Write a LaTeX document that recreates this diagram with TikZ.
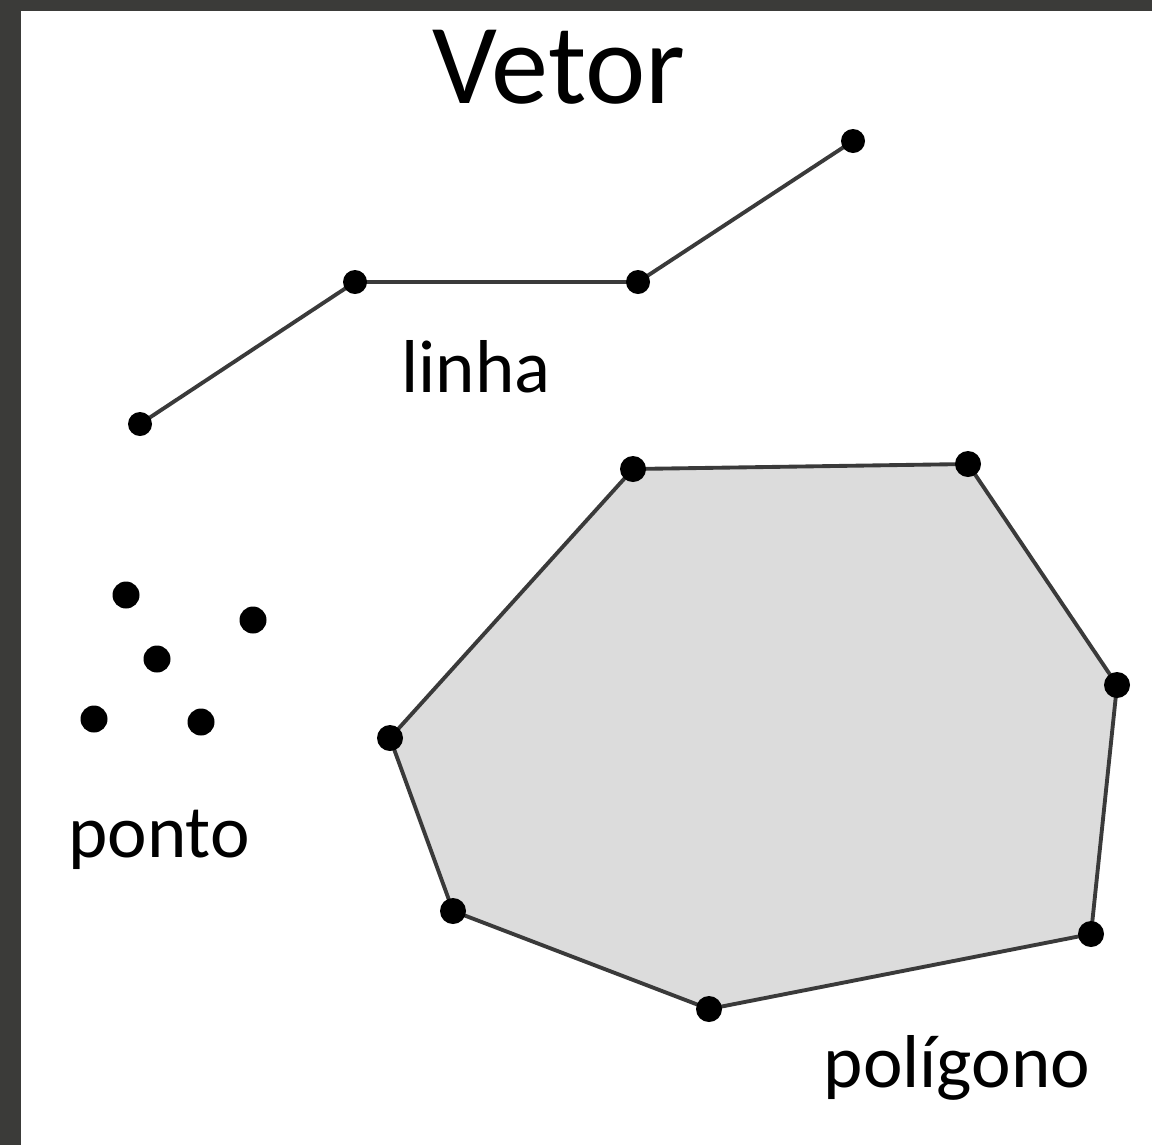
\documentclass[tikz,border=0pt]{standalone}
\usepackage{fontspec}
\setmainfont{Carlito}
\usepackage{xcolor}
\usetikzlibrary{positioning}
\definecolor{frameGray}{HTML}{3B3B39}
\definecolor{edgeGray}{HTML}{3A3A3A}
\definecolor{polyFill}{HTML}{DCDCDC}
\tikzset{
  vertex/.style={fill=black},
  edge/.style={edgeGray,line width=1.1pt,line join=round},
  label/.style={anchor=base,font=\fontsize{21.3}{25}\selectfont}
}

\begin{document}
\begin{tikzpicture}[x=0.01cm,y=-0.01cm]
  \useasboundingbox (0,0) rectangle (1152,1145);
  % Dark frame on the left and top
  \fill[frameGray] (0,0) rectangle (1152,11);
  \fill[frameGray] (0,0) rectangle (21,1145);
  % Title
  \node[anchor=base,font=\fontsize{32.5}{38}\selectfont] (title) at (559,103) {Vetor};
  % Line
  \coordinate (l1) at (140,424);
  \coordinate (l2) at (355,282);
  \coordinate (l3) at (638,282);
  \coordinate (l4) at (853,141);
  \draw[edge] (l1) -- (l2) -- (l3) -- (l4);
  \foreach \p in {l1,l2,l3,l4}
    \fill[vertex] (\p) circle (12);
  \node[label] (linha) at (476,392) {linha};
  % Points
  \coordinate (p1) at (126,595);
  \coordinate (p2) at (253,620);
  \coordinate (p3) at (157,659);
  \coordinate (p4) at (94,719);
  \coordinate (p5) at (201,722);
  \foreach \p in {p1,p2,p3,p4,p5}
    \fill[vertex] (\p) circle (13.5);
  \node[label] (ponto) at (159,857) {ponto};
  % Polygon
  \coordinate (g1) at (633,469);
  \coordinate (g2) at (968,464);
  \coordinate (g3) at (1117,685);
  \coordinate (g4) at (1091,934);
  \coordinate (g5) at (709,1009);
  \coordinate (g6) at (453,911);
  \coordinate (g7) at (390,738);
  \fill[polyFill] (g1) -- (g2) -- (g3) -- (g4) -- (g5) -- (g6) -- (g7) -- cycle;
  \draw[edge] (g1) -- (g2) -- (g3) -- (g4) -- (g5) -- (g6) -- (g7) -- cycle;
  \foreach \p in {g1,g2,g3,g4,g5,g6,g7}
    \fill[vertex] (\p) circle (13);
  \node[label] (poligono) at (957,1087) {polígono};
\end{tikzpicture}
\end{document}
